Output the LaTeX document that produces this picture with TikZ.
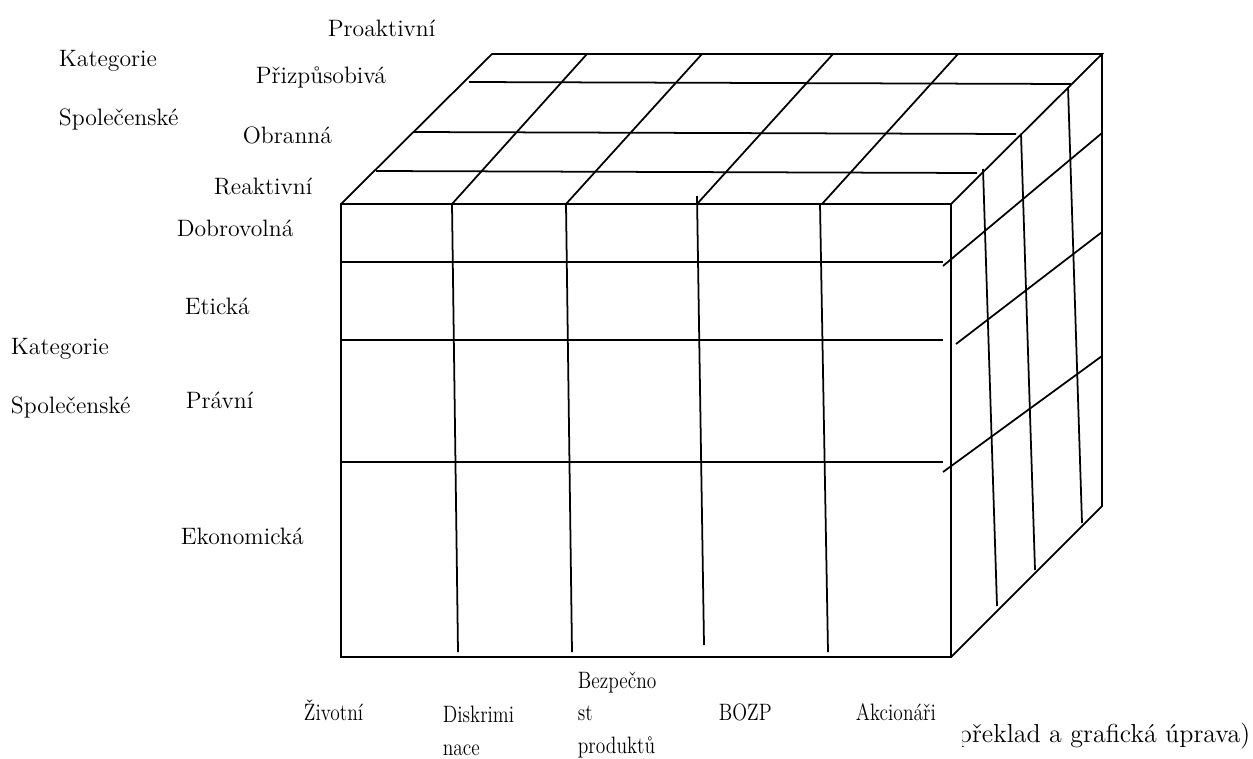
\documentclass[tikz,border=0pt]{standalone}
\newcommand\narrowtext[1]{\scalebox{0.82}[1]{#1}}
\begin{document}
\begin{tikzpicture}[x=0.02cm, y=-0.02cm, line width=1pt,
    lbl/.style={anchor=base west, inner sep=0pt, font=\fontsize{13.5}{17}\selectfont},
    collbl/.style={anchor=base west, inner sep=0pt, align=left, font=\fontsize{13.5}{18.5}\selectfont}]
            \useasboundingbox (0,0) rectangle (1253,758);

            % Front face
            \draw (341,204) rectangle (951,657);
            \draw (341,262) -- (943,262);
            \draw (341,340) -- (943,340);
            \draw (341,462) -- (943,462);
            \draw (452,204) -- (458,652);
            \draw (566,204) -- (572,652);
            \draw (697,196) -- (704,645);
            \draw (820,204) -- (828,652);

            % Top face
            \draw (341,204) -- (492,54) -- (1102,54) -- (951,204);
            \draw (452,204) -- (587,54);
            \draw (566,204) -- (702,54);
            \draw (697,204) -- (833,54);
            \draw (822,204) -- (958,54);
            \draw (469,82) -- (1071,84);
            \draw (413,132) -- (1016,134);
            \draw (376,171) -- (977,173);

            % Right face
            \draw (1102,54) -- (1102,506) -- (951,657);
            \draw (943,266) -- (1102,133);
            \draw (956,344) -- (1102,232);
            \draw (943,472) -- (1102,356);
            \draw (983,169) -- (997,606);
            \draw (1021,134) -- (1035,570);
            \draw (1068,87) -- (1082,523);

            % Depth labels
            \node[lbl] (proakt) at (327,36) {Proaktivní};
            \node[lbl] (prizp) at (255,83) {Přizpůsobivá};
            \node[lbl] (obran) at (242,143) {Obranná};
            \node[lbl] (reakt) at (213,194) {Reaktivní};
            \node[lbl] (katA) at (58,66) {Kategorie};
            \node[lbl] (spolA) at (58,125) {Společenské};

            % Height labels
            \node[lbl] (dobro) at (176,236) {Dobrovolná};
            \node[lbl] (etic) at (184,314) {Etická};
            \node[lbl] (prav) at (185,408) {Právní};
            \node[lbl] (ekon) at (180,544) {Ekonomická};
            \node[lbl] (katB) at (10,354) {Kategorie};
            \node[lbl] (spolB) at (10,413) {Společenské};

            % Width labels (anchored on the last line)
            \node[collbl] (zivot) at (303,720) {\narrowtext{Životní}};
            \node[collbl] (diskr) at (442,755) {\narrowtext{Diskrimi}\\\narrowtext{nace}};
            \node[collbl] (bezp) at (577,753) {\narrowtext{Bezpečno}\\\narrowtext{st}\\\narrowtext{produktů}};
            \node[collbl] (bozp) at (718,720) {\narrowtext{BOZP}};
            \node[collbl] (akci) at (855,720) {\narrowtext{Akcionáři}};

            % Source line, cut on the left
            \begin{scope}
                \clip (962,700) rectangle (1253,758);
                \node[anchor=base east, inner sep=0pt, font=\fontsize{14.8}{18}\selectfont] (zdroj) at (1251,742) {(překlad a grafická úprava)};
            \end{scope}
        \end{tikzpicture}
\end{document}
